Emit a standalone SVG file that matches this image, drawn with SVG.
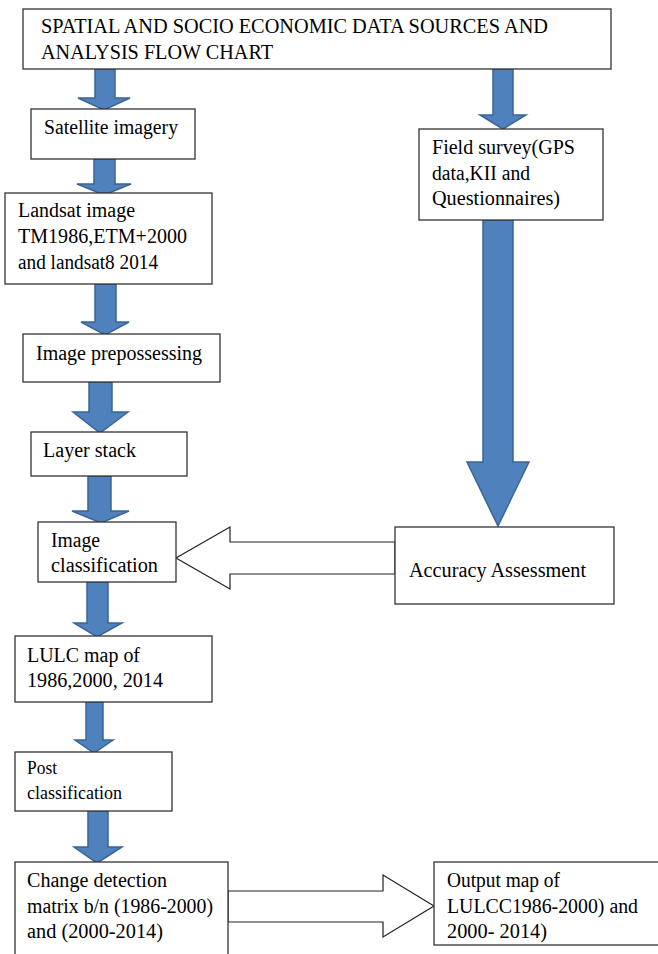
<svg xmlns="http://www.w3.org/2000/svg" width="658" height="954" viewBox="0 0 658 954" font-family="Liberation Serif, Times New Roman, DejaVu Serif, serif">
<style>
.box{fill:#fff;stroke:#333;stroke-width:1.3}
text{font-family:'Liberation Serif','Times New Roman','DejaVu Serif',serif;font-size:20px;fill:#000}
.blk{fill:#4f81bd;stroke:#3a6595;stroke-width:1.5;stroke-linejoin:miter}
.hol{fill:#fff;stroke:#222;stroke-width:1.2}
</style>
<rect width="658" height="954" fill="#fff"/>
<g id="connectors">
<polygon class="blk" points="95,69 115,69 115,98 130,98 104,110 78,98 95,98"/>
<polygon class="blk" points="493,69 513,69 513,115 526,115 503,129 480,115 493,115"/>
<polygon class="blk" points="94,159 115,159 115,184 131,184 104,195 77,184 94,184"/>
<polygon class="blk" points="95,284 116,284 116,322 129,322 105,335 81,322 95,322"/>
<polygon class="blk" points="89,382 112,382 112,412 128,412 100,433 73,412 89,412"/>
<polygon class="blk" points="88,476 111,476 111,511 129,511 101,523 72,511 88,511"/>
<polygon class="blk" points="87,582 108,582 108,623 122,623 97,637 74,623 87,623"/>
<polygon class="blk" points="86,702 103,702 103,740 113,740 94,753 75,740 86,740"/>
<polygon class="blk" points="88,811 108,811 108,847 122,847 97,863 74,847 88,847"/>
<polygon class="blk" points="483,220 513,220 513,462 529,462 498,526 467,462 483,462"/>
<polygon class="hol" points="395,542 230,542 230,527 176,558 230,589 230,574 395,574"/>
<polygon class="hol" points="228,891 383,891 383,875 434,906 383,937 383,922 228,922"/>
</g>
<g id="title">
<rect class="box" x="23" y="9" width="588" height="60"/>
<text x="41" y="33" textLength="507" lengthAdjust="spacingAndGlyphs">SPATIAL AND SOCIO ECONOMIC DATA SOURCES AND</text>
<text x="41" y="59" textLength="232" lengthAdjust="spacingAndGlyphs">ANALYSIS FLOW CHART</text>
</g>
<g id="satellite">
<rect class="box" x="31" y="109" width="164" height="50"/>
<text x="44" y="134" textLength="134" lengthAdjust="spacingAndGlyphs">Satellite imagery</text>
</g>
<g id="field">
<rect class="box" x="419" y="129" width="184" height="91"/>
<text x="432" y="154" textLength="143" lengthAdjust="spacingAndGlyphs">Field survey(GPS</text>
<text x="432" y="180" textLength="98" lengthAdjust="spacingAndGlyphs">data,KII and</text>
<text x="432" y="205" textLength="128" lengthAdjust="spacingAndGlyphs">Questionnaires)</text>
</g>
<g id="landsat">
<rect class="box" x="5" y="193" width="207" height="91"/>
<text x="18" y="217" textLength="117" lengthAdjust="spacingAndGlyphs">Landsat image</text>
<text x="18" y="243" textLength="169" lengthAdjust="spacingAndGlyphs">TM1986,ETM+2000</text>
<text x="18" y="269" textLength="140" lengthAdjust="spacingAndGlyphs">and landsat8 2014</text>
</g>
<g id="preprocess">
<rect class="box" x="23" y="334" width="197" height="48"/>
<text x="36" y="360" textLength="166" lengthAdjust="spacingAndGlyphs">Image prepossessing</text>
</g>
<g id="layerstack">
<rect class="box" x="31" y="432" width="156" height="44"/>
<text x="43" y="457" textLength="93" lengthAdjust="spacingAndGlyphs">Layer stack</text>
</g>
<g id="classification">
<rect class="box" x="38" y="522" width="138" height="60"/>
<text x="51" y="547" textLength="49" lengthAdjust="spacingAndGlyphs">Image</text>
<text x="51" y="572" textLength="107" lengthAdjust="spacingAndGlyphs">classification</text>
</g>
<g id="accuracy">
<rect class="box" x="395" y="527" width="219" height="77"/>
<text x="409" y="577" textLength="177" lengthAdjust="spacingAndGlyphs">Accuracy Assessment</text>
</g>
<g id="lulc">
<rect class="box" x="15" y="636" width="197" height="66"/>
<text x="27" y="662" textLength="113" lengthAdjust="spacingAndGlyphs">LULC map of</text>
<text x="27" y="687" textLength="136" lengthAdjust="spacingAndGlyphs">1986,2000, 2014</text>
</g>
<g id="post">
<rect class="box" x="15" y="752" width="157" height="59"/>
<text x="27" y="774" style="font-size:18px" textLength="30" lengthAdjust="spacingAndGlyphs">Post</text>
<text x="27" y="799" style="font-size:18px" textLength="95" lengthAdjust="spacingAndGlyphs">classification</text>
</g>
<g id="change">
<rect class="box" x="15" y="862" width="213" height="100"/>
<text x="27" y="887" textLength="140" lengthAdjust="spacingAndGlyphs">Change detection</text>
<text x="27" y="913" textLength="186" lengthAdjust="spacingAndGlyphs">matrix b/n (1986-2000)</text>
<text x="27" y="938" textLength="136" lengthAdjust="spacingAndGlyphs">and (2000-2014)</text>
</g>
<g id="output">
<rect class="box" x="434" y="862" width="230" height="83"/>
<text x="447" y="887" textLength="113" lengthAdjust="spacingAndGlyphs">Output map of</text>
<text x="447" y="913" textLength="191" lengthAdjust="spacingAndGlyphs">LULCC1986-2000) and</text>
<text x="447" y="938" textLength="100" lengthAdjust="spacingAndGlyphs">2000- 2014)</text>
</g>
</svg>
